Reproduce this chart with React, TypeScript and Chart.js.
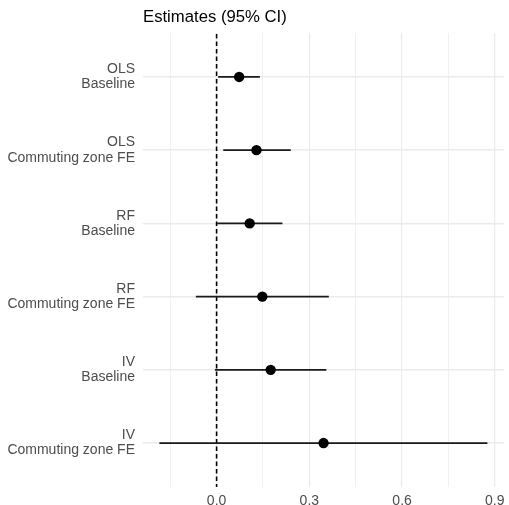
import React, { useEffect, useRef } from 'react';
import { Chart, registerables } from 'chart.js';
Chart.register(...registerables);

const models = ['OLS', 'OLS', 'RF', 'RF', 'IV', 'IV'];
const specs = ['Baseline', 'Commuting zone FE', 'Baseline', 'Commuting zone FE', 'Baseline', 'Commuting zone FE'];
const estimates = [0.073, 0.129, 0.107, 0.148, 0.175, 0.346];
const lower = [0.005, 0.0215, 0.002, -0.067, -0.0055, -0.185];
const upper = [0.14, 0.24, 0.213, 0.363, 0.355, 0.876];
const xTicks = [-0.15, 0, 0.15, 0.3, 0.45, 0.6, 0.75, 0.9];
const xMajor = [0, 0.3, 0.6, 0.9];
const titleText = 'Estimates (95% CI)';

const FONT = '"Liberation Sans", Arial, sans-serif';

const isMajor = (v: number) => xMajor.some((m) => Math.abs(m - v) < 1e-6);

export default function App() {
  const ref = useRef<HTMLCanvasElement | null>(null);
  useEffect(() => {
    document.body.style.margin = '0';
    if (!ref.current) return;
    const lo = Math.min(...lower);
    const hi = Math.max(...upper);
    const span = hi - lo;
    const xmin = lo - 0.05 * span;
    const xmax = hi + 0.05 * span;
    const n = estimates.length;

    const ciSets = estimates.map((_, i) => ({
      type: 'line' as const,
      data: [
        { x: lower[i], y: i + 1 },
        { x: upper[i], y: i + 1 },
      ],
      borderColor: '#1a1a1a',
      borderWidth: 1.8,
      pointRadius: 0,
      fill: false,
      order: 2,
    }));

    const titlePlugin = {
      id: 'titleText',
      afterDraw(chart: any) {
        const c = chart.ctx;
        c.save();
        c.font = `16.7px ${FONT}`;
        c.fillStyle = '#000';
        c.textBaseline = 'alphabetic';
        c.textAlign = 'left';
        c.fillText(titleText, chart.chartArea.left, 21.5);
        c.restore();
      },
    };

    const chart = new Chart(ref.current, {
      type: 'scatter',
      data: {
        datasets: [
          {
            type: 'line',
            data: [
              { x: 0, y: 0.4 - 0.5 },
              { x: 0, y: n + 0.6 + 0.5 },
            ],
            borderColor: '#000',
            borderWidth: 1.6,
            borderDash: [4.5, 3],
            pointRadius: 0,
            fill: false,
            order: 3,
          } as any,
          ...ciSets,
          {
            type: 'scatter',
            data: estimates.map((e, i) => ({ x: e, y: i + 1 })),
            backgroundColor: '#000',
            borderColor: '#000',
            borderWidth: 0,
            pointRadius: 5.2,
            order: 1,
          } as any,
        ],
      },
      options: {
        animation: false,
        responsive: false,
        maintainAspectRatio: false,
        layout: { padding: { top: 33, right: 4, left: 0, bottom: 0 } },
        plugins: { legend: { display: false }, tooltip: { enabled: false }, title: { display: false } },
        scales: {
          x: {
            type: 'linear',
            min: xmin,
            max: xmax,
            afterBuildTicks: (s: any) => {
              s.ticks = xTicks.map((v) => ({ value: v }));
            },
            afterFit: (s: any) => {
              s.height = 18;
              s.paddingLeft = 0;
              s.paddingRight = 0;
            },
            border: { display: false },
            grid: {
              drawTicks: false,
              color: '#ebebeb',
              lineWidth: (ctx: any) => (ctx.tick && isMajor(ctx.tick.value) ? 1.2 : 0.7),
            },
            ticks: {
              autoSkip: false,
              maxRotation: 0,
              padding: 6,
              color: '#4d4d4d',
              font: { family: FONT, size: 14 },
              callback: (v: any) => (isMajor(Number(v)) ? Number(v).toFixed(1) : ''),
            },
          },
          y: {
            type: 'linear',
            reverse: true,
            min: 0.4,
            max: n + 0.6,
            afterBuildTicks: (s: any) => {
              s.ticks = estimates.map((_, i) => ({ value: i + 1 }));
            },
            afterFit: (s: any) => {
              s.width = 143;
              s.paddingTop = 0;
              s.paddingBottom = 0;
            },
            border: { display: false },
            grid: { drawTicks: false, color: '#ebebeb', lineWidth: 1.4 },
            ticks: {
              autoSkip: false,
              padding: 8,
              color: '#4d4d4d',
              font: { family: FONT, size: 14, lineHeight: 1.08 },
              callback: (v: any) => {
                const i = Math.round(Number(v)) - 1;
                return [models[i], specs[i]];
              },
            },
          },
        },
      },
      plugins: [titlePlugin],
    } as any);
    return () => chart.destroy();
  }, []);
  return (
    <div style={{ width: 509, height: 505 }}>
      <canvas ref={ref} width={509} height={505} style={{ width: 509, height: 505, display: 'block' }} />
    </div>
  );
}
